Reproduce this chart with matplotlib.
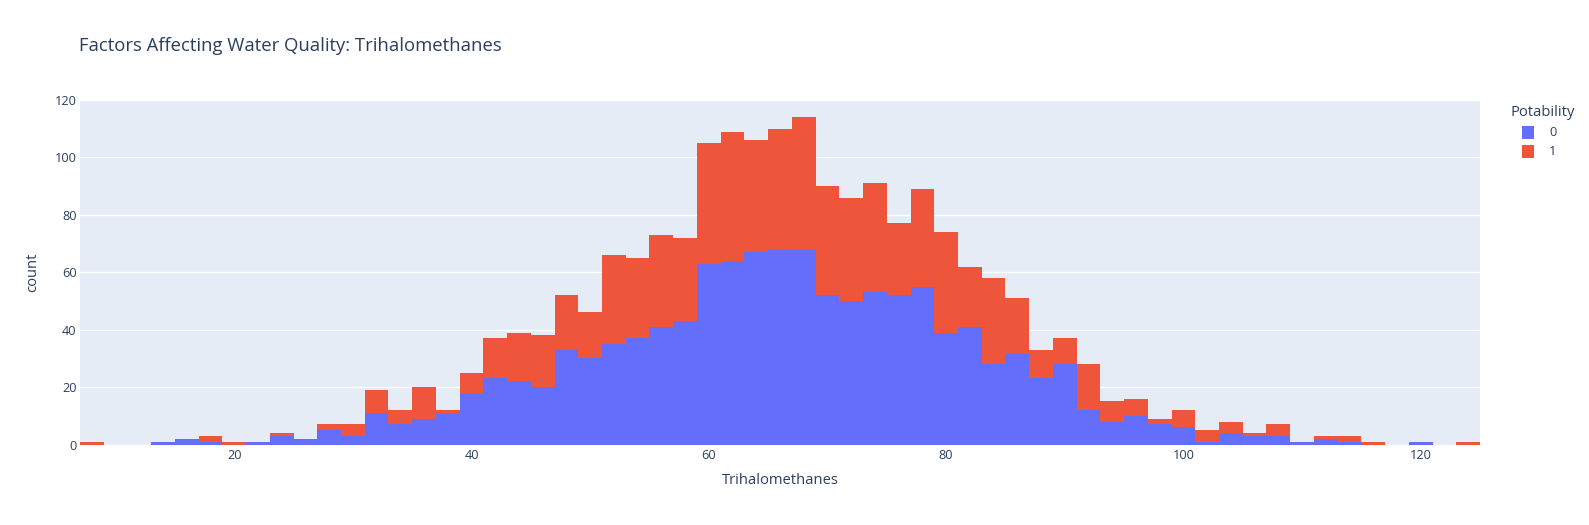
import numpy as np
import matplotlib
matplotlib.use("Agg")
import matplotlib.pyplot as plt
from matplotlib.patches import Rectangle

# Trihalomethanes histogram, bins of width 2 starting at 7
bin_start = 7
bin_width = 2
# counts per bin, Potability = 0
counts_0 = [0, 0, 0, 1, 2, 1, 0, 1, 3, 2, 5, 3, 11, 7, 9, 11, 18, 23, 22, 20,
            33, 30, 35, 37, 41, 43, 63, 64, 67, 68, 68, 52, 50, 53, 52, 55, 39, 41, 28, 32,
            23, 28, 12, 8, 10, 7, 6, 1, 4, 3, 3, 1, 2, 1, 0, 0, 1, 0, 0]
# counts per bin, Potability = 1
counts_1 = [1, 0, 0, 0, 0, 2, 1, 0, 1, 0, 2, 4, 8, 5, 11, 1, 7, 14, 17, 18,
            19, 16, 31, 28, 32, 29, 42, 45, 39, 42, 46, 38, 36, 38, 25, 34, 35, 21, 30, 19,
            10, 9, 16, 7, 6, 2, 6, 4, 4, 1, 4, 0, 1, 2, 1, 0, 0, 0, 1]
x_ticks = [20, 40, 60, 80, 100, 120]
y_ticks = [0, 20, 40, 60, 80, 100, 120]
legend_title = "Potability"
legend_labels = ["0", "1"]

BLUE = "#636EFA"
RED = "#EF553B"
BG = "#E5ECF6"
TEXT = "#2a3f5f"
FONT = ["Open Sans", "DejaVu Sans"]

plt.rcParams["font.family"] = FONT

W, H = 1589, 525
n_bins = len(counts_0)
centers = bin_start + bin_width / 2 + bin_width * np.arange(n_bins)

fig = plt.figure(figsize=(W / 100, H / 100), dpi=100)
ax = fig.add_axes([80 / W, 80.5 / H, 1400 / W, 344.5 / H])
ax.set_facecolor(BG)

ax.bar(centers, counts_0, width=bin_width, color=BLUE, linewidth=0, zorder=2)
ax.bar(centers, counts_1, width=bin_width, bottom=counts_0, color=RED, linewidth=0, zorder=2)

ax.set_xlim(bin_start, bin_start + bin_width * n_bins)
ax.set_ylim(0, 120)
ax.set_xticks(x_ticks)
ax.set_yticks(y_ticks)
ax.grid(axis="y", color="white", linewidth=1.0, zorder=1)
ax.set_axisbelow(True)
for s in ax.spines.values():
    s.set_visible(False)
ax.tick_params(length=0, labelsize=9.2, colors=TEXT)
ax.tick_params(axis="y", pad=2.5)
ax.tick_params(axis="x", pad=3.5)

# axis titles placed by hand
fig.text(780 / W, 1 - 480 / H, "Trihalomethanes", fontsize=10.6, color=TEXT,
         ha="center", va="center")
fig.text(32.5 / W, 1 - 272 / H, "count", fontsize=10.6, color=TEXT,
         ha="center", va="center", rotation=90)

fig.text(79 / W, 1 - 50.7 / H, "Factors Affecting Water Quality: Trihalomethanes",
         fontsize=13.3, color=TEXT, va="baseline", ha="left")

# legend drawn by hand, plotly style
fig.text(1510 / W, 1 - 113 / H, legend_title, fontsize=10.6, color=TEXT,
         va="center", ha="left")
for i, (lab, col) in enumerate(zip(legend_labels, [BLUE, RED])):
    yc = 132.5 + 19 * i
    fig.patches.append(Rectangle((1522 / W, 1 - (yc + 6) / H), 12 / W, 12 / H,
                                 transform=fig.transFigure, facecolor=col,
                                 edgecolor="none"))
    fig.text(1549 / W, 1 - yc / H, lab, fontsize=9.2, color=TEXT,
             va="center", ha="left")

fig.savefig("out.png", dpi=100, facecolor="white")
